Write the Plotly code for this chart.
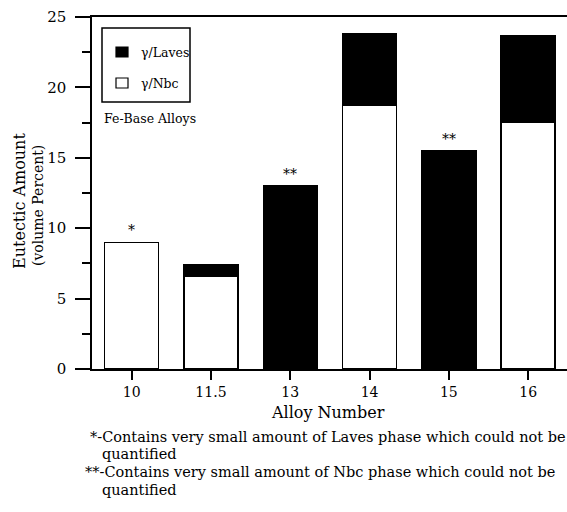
import plotly.graph_objects as go

# Eutectic content of the Fe-base alloys (volume percent)
alloys = ["10", "11.5", "13", "14", "15", "16"]
nbc_pct = [9.0, 6.6, None, 18.7, None, 17.5]      # gamma/NbC eutectic
laves_pct = [None, 0.8, 13.0, 5.1, 15.5, 6.2]     # gamma/Laves eutectic
notes = ["*", "", "**", "", "**", ""]

W, H = 567, 512
L, R, T, B = 92, 0, 17, 143
FONT = "DejaVu Serif"


def px(x):
    return (x - L) / (W - L - R)


def py(y):
    return (H - B - y) / (H - T - B)


def label(x, y, text, size, anchor="left", angle=0):
    return dict(x=px(x), y=py(y), xref="paper", yref="paper", text=text,
                xanchor=anchor, yanchor="middle", textangle=angle, showarrow=False,
                font=dict(family=FONT, size=size, color="black"))


fig = go.Figure()
fig.add_trace(go.Bar(
    x=alloys, y=nbc_pct, name="γ/Nbc", width=0.68,
    marker=dict(color="white", line=dict(color="black", width=1.5)),
))
fig.add_trace(go.Bar(
    x=alloys, y=laves_pct, name="γ/Laves", width=0.68,
    marker=dict(color="black", line=dict(color="black", width=1.5)),
))

annotations = []
# asterisks over bars whose minor phase could not be quantified
for i, (n, l, note) in enumerate(zip(nbc_pct, laves_pct, notes)):
    if note:
        total = (n or 0) + (l or 0)
        annotations.append(dict(
            x=i, y=total, xref="x", yref="y", text=note, showarrow=False,
            xanchor="center", yanchor="bottom", yshift=2,
            font=dict(family=FONT, size=14, color="black"),
        ))

# y axis title in two lines
annotations.append(label(19, 201, "Eutectic Amount", 16, "center", -90))
annotations.append(label(38, 206, "(volume Percent)", 14, "center", -90))

# x axis title
annotations.append(label(328, 412, "Alloy Number", 16, "center"))

# footnotes
foot = [
    (88, 437, "*-Contains very small amount of Laves phase which could not be"),
    (100, 454, "quantified"),
    (83, 472, "**-Contains very small amount of Nbc phase which could not be"),
    (100, 490, "quantified"),
]
for fx, fy, txt in foot:
    annotations.append(label(fx, fy, txt, 14.5))

# legend box
legend_items = [("γ/Laves", "black", 52), ("γ/Nbc", "white", 83)]
shapes = [dict(type="rect", xref="paper", yref="paper",
               x0=px(102), x1=px(190), y0=py(28), y1=py(102),
               line=dict(color="black", width=1.5), fillcolor="white", layer="below")]
for text, color, cy in legend_items:
    shapes.append(dict(type="rect", xref="paper", yref="paper",
                       x0=px(116), x1=px(128), y0=py(cy - 5), y1=py(cy + 5),
                       line=dict(color="black", width=1.2), fillcolor=color))
    annotations.append(label(139, cy, text, 12.5))
annotations.append(label(102, 118, "Fe-Base Alloys", 12.5))

fig.update_layout(
    width=W, height=H,
    margin=dict(l=L, r=R, t=T, b=B),
    barmode="stack",
    showlegend=False,
    plot_bgcolor="white", paper_bgcolor="white",
    font=dict(family=FONT, size=14, color="black"),
    annotations=annotations,
    shapes=shapes,
)
fig.update_xaxes(
    type="category", range=[-0.5, 5.49],
    showline=True, linecolor="black", linewidth=1.5, mirror=True,
    ticks="outside", ticklen=9, tickwidth=1.5, tickcolor="black",
    showgrid=False, zeroline=False,
    tickfont=dict(family=FONT, size=14, color="black"),
)
fig.update_yaxes(
    range=[0, 25], dtick=5,
    showline=True, linecolor="black", linewidth=1.5,
    ticks="outside", ticklen=15, tickwidth=1.5, tickcolor="black",
    minor=dict(dtick=2.5, ticks="outside", ticklen=8, tickwidth=1.5, tickcolor="black"),
    showgrid=False, zeroline=False, ticklabelstandoff=6,
    tickfont=dict(family=FONT, size=15, color="black"),
)

fig.write_html("out.html")
